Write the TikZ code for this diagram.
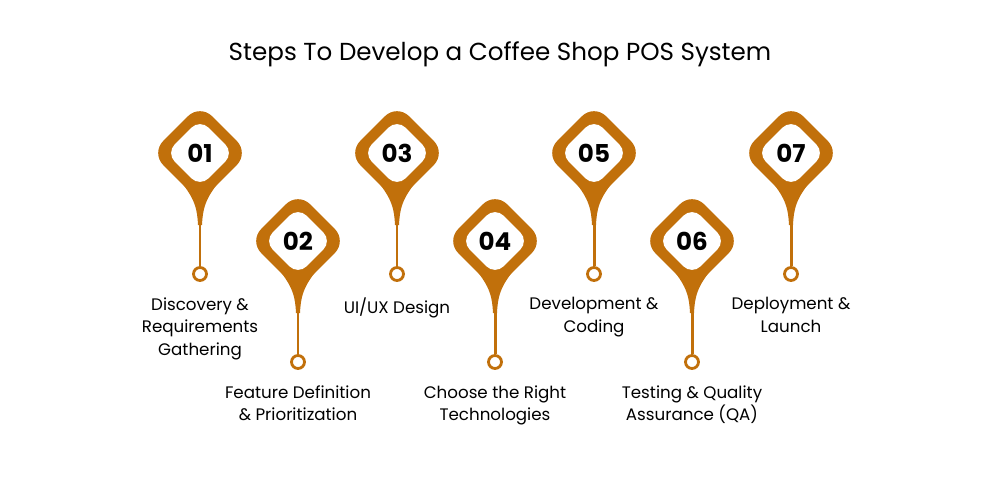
\documentclass[tikz,border=0pt]{standalone}
\usepackage{fontspec}
\setmainfont{Poppins}
\usetikzlibrary{shapes.geometric}
\definecolor{coffee}{HTML}{C1700B}
\tikzset{
  outerbox/.style={diamond, fill=coffee, minimum width=1.96cm, minimum height=1.96cm, rounded corners=0.34cm, inner sep=0pt},
  innerbox/.style={diamond, fill=white, minimum width=1.36cm, minimum height=1.36cm, rounded corners=0.24cm, inner sep=0pt, font=\fontsize{14}{14}\selectfont\bfseries},
  endring/.style={circle, draw=coffee, line width=1.6pt, fill=white, minimum size=0.26cm, inner sep=0pt},
  steplabel/.style={align=center, anchor=north, font=\fontsize{9.5}{13}\selectfont, inner sep=0pt}
}
\begin{document}
\begin{tikzpicture}[x=0.02cm, y=-0.02cm]
\useasboundingbox (0,0) rectangle (1000,500);
\node (title) at (500,54) {\fontsize{14}{16}\selectfont Steps To Develop a Coffee Shop POS System};

% Markers
\foreach \n/\x/\y/\txt in {01/200/153/{Discovery \&\\Requirements\\Gathering},
    02/298/241/{Feature Definition\\\& Prioritization},
    03/397/153/{UI/UX Design},
    04/495/241/{Choose the Right\\Technologies},
    05/594/153/{Development \&\\Coding},
    06/692/241/{Testing \& Quality\\Assurance (QA)},
    07/791/153/{Deployment \&\\Launch}}{
  \node (d\n) [outerbox] at (\x,\y) {};
  \fill[coffee] (\x-26,\y+20) .. controls (\x-8,\y+42) and (\x-3,\y+50) .. (\x-2,\y+72)
     -- (\x+2,\y+72) .. controls (\x+3,\y+50) and (\x+8,\y+42) .. (\x+26,\y+20) -- cycle;
  \node (i\n) [innerbox] at (\x,\y) {\n};
  \node (c\n) [endring] at (\x,\y+121) {};
  \draw[coffee, line width=1.7pt] (\x,\y+70) -- (c\n.north);
  \node (t\n) [steplabel] at (\x,\y+144) {\txt};
}
\end{tikzpicture}
\end{document}
